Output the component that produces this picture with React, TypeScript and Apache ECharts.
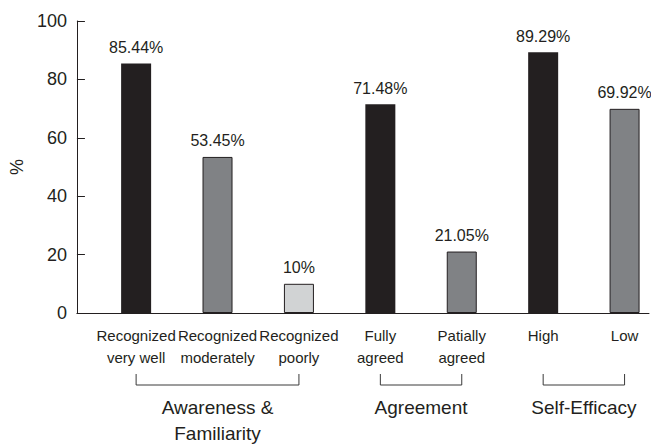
import React, { useEffect, useRef } from "react";
import * as echarts from "echarts";

const categories = [
  "Recognized\nvery well",
  "Recognized\nmoderately",
  "Recognized\npoorly",
  "Fully\nagreed",
  "Patially\nagreed",
  "High",
  "Low",
];
const values = [85.44, 53.45, 10, 71.48, 21.05, 89.29, 69.92];
const shades = ["dark", "mid", "light", "dark", "mid", "dark", "mid"];
const groupNames = ["Awareness &\nFamiliarity", "Agreement", "Self-Efficacy"];
const groupStart = [0, 3, 5];
const groupEnd = [2, 4, 6];
const yTicks = [0, 20, 40, 60, 80, 100];

const FONT = "'Liberation Sans', Arial, Helvetica, sans-serif";
const INK = "#231f20";
const fills: Record<string, string> = { dark: "#231f20", mid: "#808285", light: "#d1d3d4" };

export default function App() {
  const ref = useRef<HTMLDivElement>(null);
  useEffect(() => {
    document.body.style.margin = "0";
    if (!ref.current) return;
    const chart = echarts.init(ref.current, undefined, { renderer: "svg" });
    const option: any = {
      animation: false,
      backgroundColor: "#ffffff",
      textStyle: { fontFamily: FONT },
      grid: { left: 60, right: 2, top: 21, bottom: 131, containLabel: false },
      xAxis: {
        type: "value",
        min: -0.727,
        max: 6.3,
        splitLine: { show: false },
        axisTick: { show: false },
        axisLine: { show: true, onZero: false, lineStyle: { color: INK, width: 1 } },
        axisLabel: {
          customValues: categories.map((_, i) => i),
          formatter: (v: number) => categories[Math.round(v)] ?? "",
          fontSize: 15,
          lineHeight: 22,
          color: INK,
          fontFamily: FONT,
          margin: 11,
        },
      },
      yAxis: {
        type: "value",
        min: yTicks[0],
        max: yTicks[yTicks.length - 1],
        interval: 20,
        name: "%",
        nameLocation: "middle",
        nameGap: 44,
        nameRotate: 90,
        nameTextStyle: { fontSize: 18, color: INK, fontFamily: FONT },
        splitLine: { show: false },
        axisLine: { show: true, onZero: false, lineStyle: { color: INK, width: 1 } },
        axisTick: { show: true, inside: true, length: 8, lineStyle: { color: INK } },
        axisLabel: { fontSize: 18, color: INK, fontFamily: FONT, margin: 10 },
      },
      series: [
        {
          type: "bar",
          barWidth: 30,
          data: values.map((v, i) => ({
            value: [i, v],
            itemStyle: {
              color: fills[shades[i]],
              borderColor: INK,
              borderWidth: shades[i] === "dark" ? 0 : 1,
            },
          })),
          label: {
            show: true,
            position: "top",
            distance: 8,
            fontSize: 16,
            color: INK,
            fontFamily: FONT,
            formatter: (p: any) => `${p.value[1]}%`,
          },
        },
      ],
    };
    chart.setOption(option);

    const graphics: any[] = [];
    const bracketTop = 374;
    const bracketBottom = 385;
    groupNames.forEach((name, g) => {
      const x1 = chart.convertToPixel({ xAxisIndex: 0 }, groupStart[g]) as number;
      const x2 = chart.convertToPixel({ xAxisIndex: 0 }, groupEnd[g]) as number;
      graphics.push({
        type: "polyline",
        shape: {
          points: [
            [x1, bracketTop],
            [x1, bracketBottom],
            [x2, bracketBottom],
            [x2, bracketTop],
          ],
        },
        style: { stroke: "#3a3a3a", lineWidth: 1, fill: null },
      });
      graphics.push({
        type: "text",
        x: (x1 + x2) / 2,
        y: 394,
        style: {
          text: name,
          fontSize: 19,
          lineHeight: 26,
          fill: INK,
          fontFamily: FONT,
          align: "center",
          verticalAlign: "top",
        },
      });
    });
    chart.setOption({ graphic: graphics });

    return () => chart.dispose();
  }, []);
  return <div ref={ref} style={{ width: 651, height: 444 }} />;
}
